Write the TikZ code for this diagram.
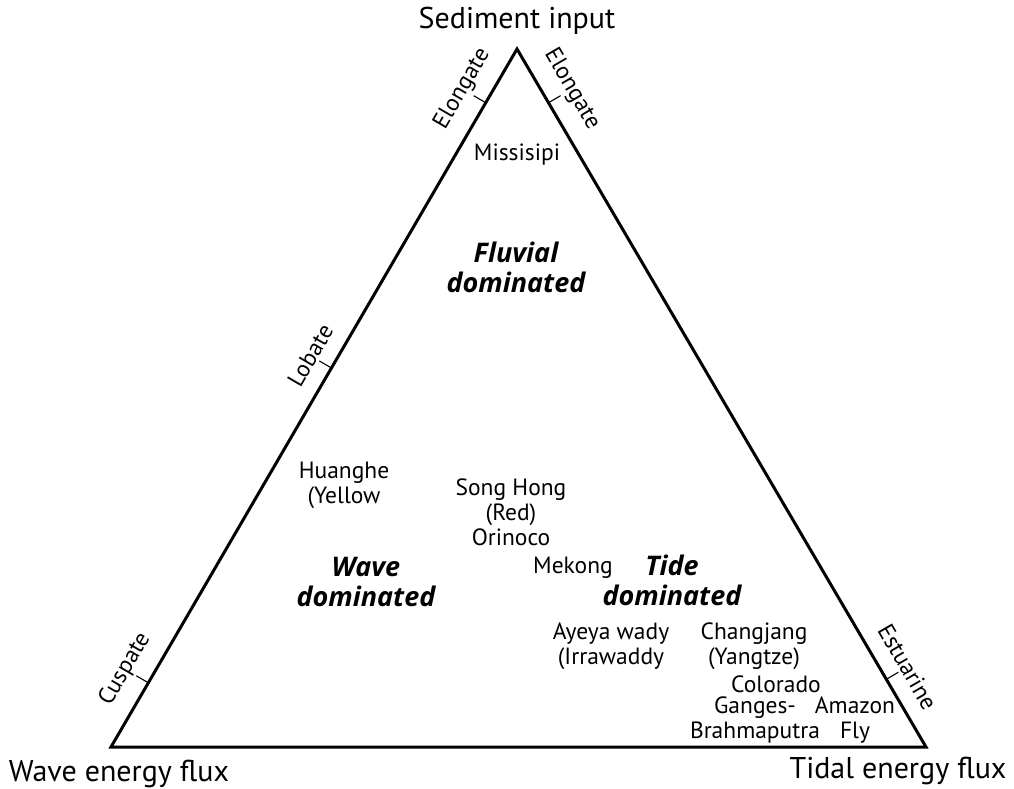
\documentclass[tikz,border=0pt]{standalone}
\usepackage{fontspec}
\setmainfont{PT Sans}
\newfontfamily\regimefont{Open Sans}
\usetikzlibrary{calc}

\tikzset{
  frame/.style={line width=3pt, line join=miter},
  tickmark/.style={line width=1.1pt},
  body/.style={font=\fontsize{23.5}{25}\selectfont, align=center, inner sep=0pt},
  title/.style={font=\fontsize{30}{36}\selectfont, inner sep=0pt},
  regime/.style={font=\regimefont\fontsize{27}{30}\selectfont\bfseries\itshape, align=center, inner sep=0pt},
  edgelabel/.style={font=\fontsize{23.5}{25}\selectfont, anchor=south, inner sep=2pt},
}

\begin{document}
\begin{tikzpicture}[x=1pt, y=1pt]
  \useasboundingbox (0,0) rectangle (1014,788);

  % corners of the ternary diagram
  \coordinate (A)  at (517,739);
  \coordinate (BL) at (111,41);
  \coordinate (BR) at (926,41);
  \draw[frame] (A) -- (BL) -- (BR) -- cycle;

  % end-member labels
  \node[title] (sed)   at (517,767) {Sediment input};
  \node[title] (wave)  at (119,14)  {Wave energy flux};
  \node[title] (tidal) at (898,17)  {Tidal energy flux};

  % delta-shape classes along the left edge
  \foreach \t/\lab/\nm in {0.077/Elongate/le, 0.457/Lobate/ll, 0.908/Cuspate/lc}{
    \coordinate (\nm-base) at ($(A)!\t!(BL)$);
    \coordinate (\nm-tip)  at ($(\nm-base)!14pt!90:(A)$);
    \draw[tickmark] (\nm-base) -- (\nm-tip);
    \node[edgelabel, rotate=59.8] (\nm) at (\nm-tip) {\lab};
  }
  % delta-shape classes along the right edge
  \foreach \t/\lab/\nm in {0.077/Elongate/re, 0.903/Estuarine/rs}{
    \coordinate (\nm-base) at ($(A)!\t!(BR)$);
    \coordinate (\nm-tip)  at ($(\nm-base)!14pt!-90:(A)$);
    \draw[tickmark] (\nm-base) -- (\nm-tip);
    \node[edgelabel, rotate=-59.8] (\nm) at (\nm-tip) {\lab};
  }

  % process regimes
  \node[regime] (fluvial) at (516,521) {Fluvial\\dominated};
  \node[regime] (wavedom) at (366,206) {Wave\\dominated};
  \node[regime] (tidedom) at (672,208) {Tide\\dominated};

  % example deltas
  \node[body] (miss)     at (517,633) {Missisipi};
  \node[body] (huanghe)  at (344,303) {Huanghe\\(Yellow};
  \node[body] (songhong) at (511,276) {Song Hong\\(Red)\\Orinoco};
  \node[body] (mekong)   at (573,220) {Mekong};
  \node[body] (ayeya)    at (611,142) {Ayeya wady\\(Irrawaddy};
  \node[body] (chang)    at (754,142) {Changjang\\(Yangtze)};
  \node[body] (colorado) at (776,104) {Colorado};
  \node[body] (ganges)   at (755,68)  {Ganges-\\Brahmaputra};
  \node[body] (amazon)   at (855,68)  {Amazon\\Fly};
\end{tikzpicture}
\end{document}
